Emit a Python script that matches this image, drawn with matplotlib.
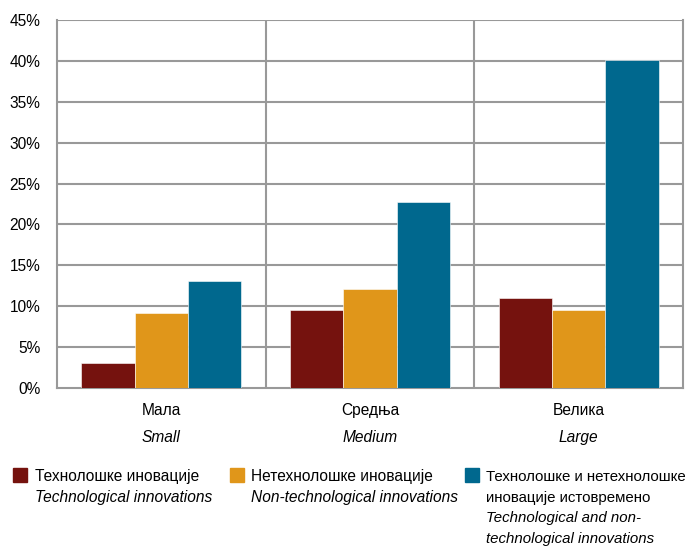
import numpy as np
import matplotlib
matplotlib.use('Agg')
from matplotlib import pyplot as plt
from matplotlib.patches import Rectangle

plt.rcParams['font.family'] = ['Liberation Sans', 'DejaVu Sans']

# data
categories_sr = ['Мала', 'Средња', 'Велика']
categories_en = ['Small', 'Medium', 'Large']
tech = [3.1, 9.5, 11.0]
non_tech = [9.2, 12.1, 9.5]
both = [13.1, 22.8, 40.1]
series_sr = ['Технолошке иновације', 'Нетехнолошке иновације',
             'Технолошке и нетехнолошке\nиновације истовремено']
series_en = ['Technological innovations', 'Non-technological innovations',
             'Technological and non-\ntechnological innovations']
colors = ['#75120e', '#e0961a', '#00688e']
yticks = np.arange(0, 46, 5)

W, H = 692, 547
fs = 11.2
fig = plt.figure(figsize=(W / 100, H / 100), dpi=100)
ax = fig.add_axes([57 / W, 1 - 388 / H, (683 - 57) / W, (388 - 20) / H])

grid_c = '#999999'
x = np.arange(len(categories_sr))
bw = 0.256
for i, vals in enumerate([tech, non_tech, both]):
    ax.bar(x + (i - 1) * bw, vals, width=bw, color=colors[i], zorder=3,
           edgecolor='white', linewidth=0.4)

ax.set_xlim(-0.5, 2.5)
ax.set_ylim(0, 45)
ax.set_yticks(yticks)
ax.set_yticklabels(['{}%'.format(v) for v in yticks], fontsize=fs)
ax.tick_params(axis='y', length=0, pad=12)
ax.set_xticks([])
for v in yticks[1:]:
    ax.axhline(v, color=grid_c, lw=1.5, zorder=1)
for b in [0.5, 1.5]:
    ax.axvline(b, color=grid_c, lw=1.5, zorder=1)
for s in ax.spines.values():
    s.set_color(grid_c)
    s.set_linewidth(1.5)
ax.spines['top'].set_visible(False)

for i in range(len(categories_sr)):
    ax.text(x[i], -2.8, categories_sr[i], ha='center', va='center', fontsize=fs)
    ax.text(x[i], -6.0, categories_en[i], ha='center', va='center', fontsize=fs,
            style='italic')

# legend
leg_x = [13, 230, 465]
txt_x = [35, 251, 486]
leg_fs = [fs, fs, 10.8]
for i in range(3):
    fig.patches.append(Rectangle((leg_x[i] / W, 1 - 482 / H), 14 / W, 14 / H,
                                 transform=fig.transFigure, color=colors[i]))
    n_sr = series_sr[i].count('\n') + 1
    for j, line in enumerate(series_sr[i].split('\n')):
        fig.text(txt_x[i] / W, 1 - (477 + j * 20.6) / H, line,
                 fontsize=leg_fs[i], va='center')
    for j, line in enumerate(series_en[i].split('\n')):
        fig.text(txt_x[i] / W, 1 - (477 + (n_sr + j) * 20.6) / H, line,
                 fontsize=leg_fs[i], va='center', style='italic')

plt.savefig('out.png', dpi=100)
